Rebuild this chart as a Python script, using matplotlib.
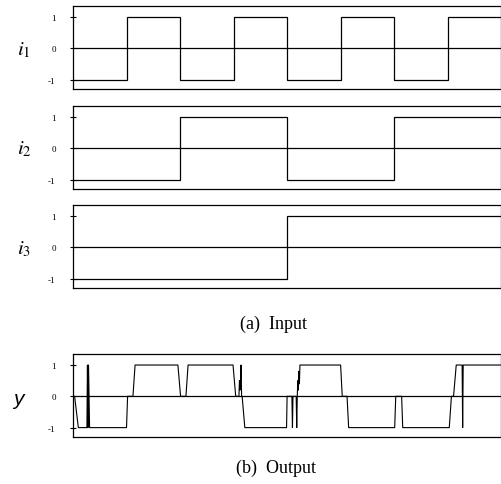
import matplotlib
matplotlib.use('Agg')
import matplotlib.pyplot as plt

# time axis in half-periods of i1
t_edges = [0, 1, 2, 3, 4, 5, 6, 7, 8]
i1_levels = [-1, 1, -1, 1, -1, 1, -1, 1]
i2_levels = [-1, -1, 1, 1, -1, -1, 1, 1]
i3_levels = [-1, -1, -1, -1, 1, 1, 1, 1]

# network output
y_t = [0, 0.03, 0.10, 0.26, 0.27, 0.28, 0.29, 0.31, 1.00, 1.02, 1.12, 1.16,
       1.96, 2.01, 2.11, 2.15, 2.99, 3.04, 3.10, 3.11, 3.12, 3.13, 3.14, 3.15,
       3.16, 3.21, 3.99, 4.00, 4.09, 4.10, 4.11, 4.17, 4.18, 4.19, 4.20, 4.21,
       4.22, 4.23, 4.24, 5.00, 5.03, 5.12, 5.15, 6.01, 6.03, 6.14, 6.16, 7.03,
       7.07, 7.11, 7.16, 7.27, 7.28, 7.29, 8.0]
y_v = [0, 0, -1, -1, 1, -1, 1, -1, -1, 0, 0, 1,
       1, 0, 0, 1, 1, 0, 0, 0.5, 0.2, 0.5, 1, 0,
       0, -1, -1, 0, 0, -1, 0, 0, -1, 0, 0.5, 0.2,
       0.8, 0.4, 1, 1, 0, 0, -1, -1, 0, 0, -1, -1,
       0, 0, 1, 1, -1, 1, 1]

plt.rcParams['font.family'] = ['Liberation Serif', 'DejaVu Serif']
plt.rcParams['mathtext.fontset'] = 'stix'

fig = plt.figure(figsize=(5.02, 4.85), dpi=100)

left, width, h = 0.1454, 0.853, 0.171
bottoms = [0.8144, 0.6082, 0.4041, 0.0969]
labels = ['$i_1$', '$i_2$', '$i_3$', '$y$']
label_y = [50, 149, 249, 400]


def style(ax):
    ax.set_xlim(0, 8)
    ax.set_ylim(-1.3, 1.35)
    ax.set_xticks([])
    ax.set_yticks([-1, 0, 1])
    ax.set_yticklabels(['-1', '0', '1'])
    ax.tick_params(axis='y', direction='inout', length=5, width=0.8,
                   labelsize=6.5, pad=10)
    for s in ax.spines.values():
        s.set_linewidth(0.9)
    ax.axhline(0, color='black', lw=0.9)


for k, levels in enumerate([i1_levels, i2_levels, i3_levels]):
    ax = fig.add_axes([left, bottoms[k], width, h])
    ax.stairs(levels, t_edges, baseline=None, color='black', lw=0.9)
    style(ax)

ax4 = fig.add_axes([left, bottoms[3], width, h])
ax4.plot(y_t, y_v, color='black', lw=0.8)
style(ax4)

for lab, yy in zip(labels, label_y):
    if lab == '$y$':
        fig.text(18 / 502, 1 - yy / 485, 'y', fontsize=15, style='italic',
                 family='Liberation Sans', ha='center', va='center')
    else:
        fig.text(24 / 502, 1 - yy / 485, lab, fontsize=15,
                 ha='center', va='center')

fig.text(274 / 502, 1 - 324 / 485, '(a)  Input', fontsize=13,
         ha='center', va='center')
fig.text(276 / 502, 1 - 468 / 485, '(b)  Output', fontsize=13,
         ha='center', va='center')

fig.savefig('out.png', dpi=100)
